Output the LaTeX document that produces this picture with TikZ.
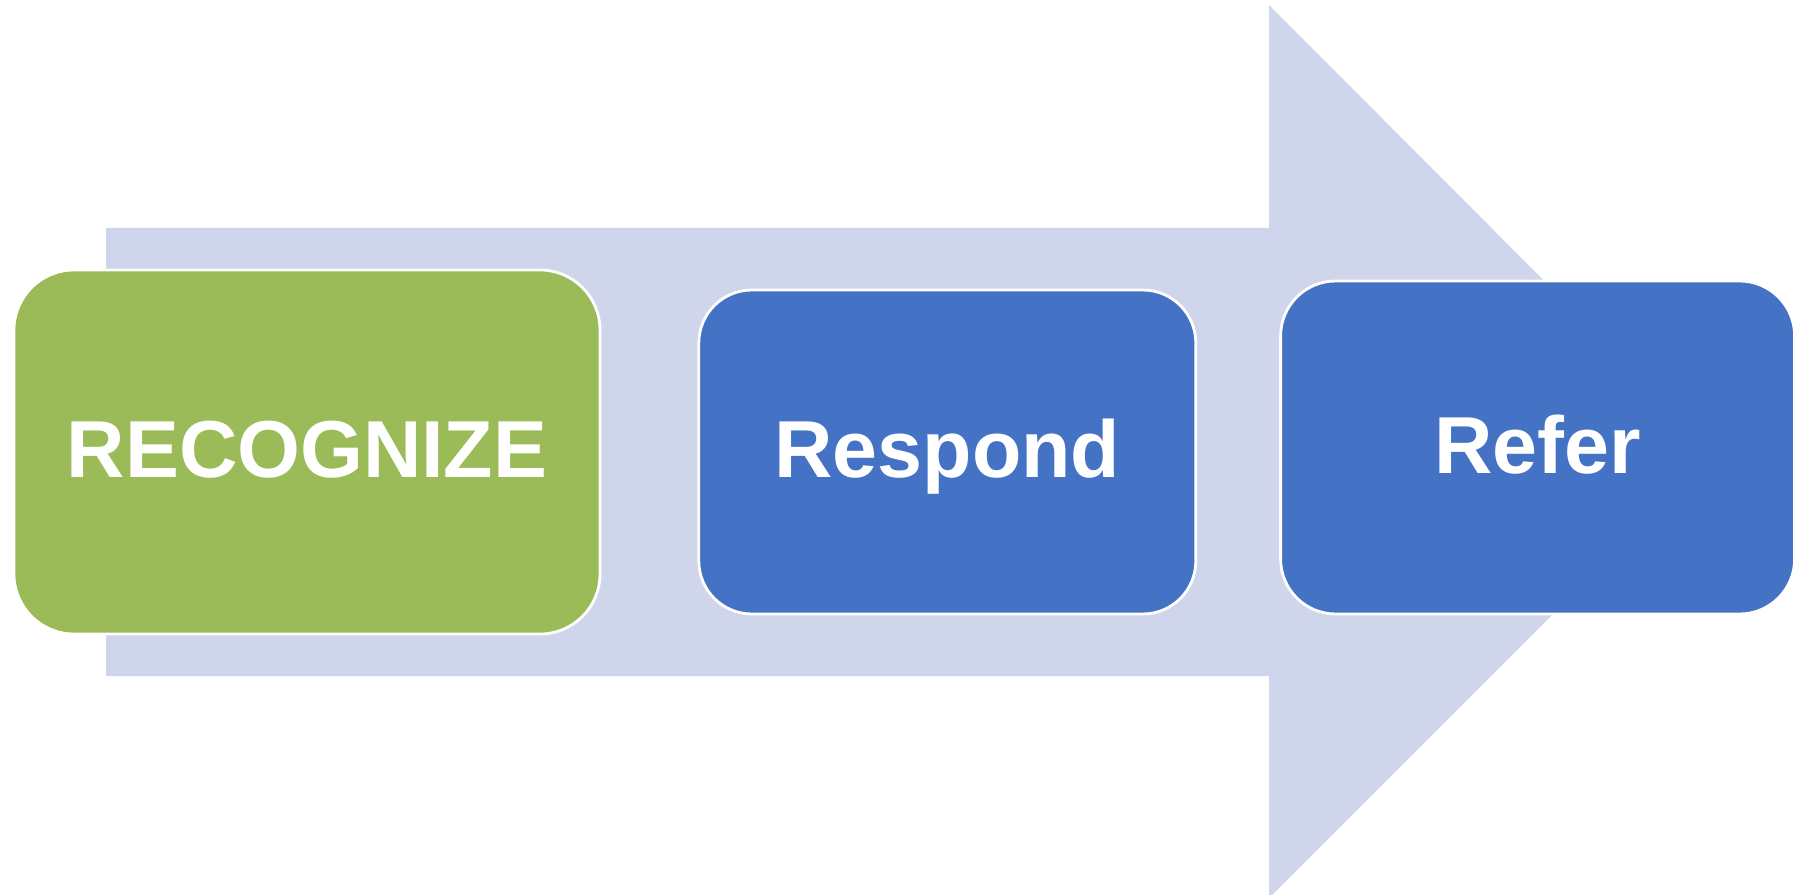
\documentclass[tikz,border=0pt]{standalone}
\usepackage{fontspec}
\setmainfont{Liberation Sans}
\usepackage{tikz}
\usetikzlibrary{positioning}
\definecolor{arrowblue}{RGB}{207,213,234}
\definecolor{stepgreen}{RGB}{155,187,89}
\definecolor{stepblue}{RGB}{68,114,196}
\tikzset{stepbox/.style={draw=white, line width=0.8pt, text=white, inner sep=0pt,
    font=\fontsize{23}{28}\selectfont\bfseries, text height=0.59cm, text depth=0.07cm}}

\begin{document}
\begin{tikzpicture}
		\useasboundingbox (0,0) rectangle (17.94,8.94);
		% big arrow behind the steps
		\fill [arrowblue] (1.06,2.18) -- (1.06,6.66) -- (12.69,6.66) -- (12.69,8.89) -- (17.15,4.42) -- (12.69,-0.04) -- (12.69,2.18) -- cycle;
		
		\node [stepbox, fill=stepgreen, rounded corners=0.6cm, minimum width=5.86cm, minimum height=3.64cm] (recognize) at (3.07,4.42) {RECOGNIZE};
		\node [stepbox, fill=stepblue, rounded corners=0.53cm, minimum width=4.97cm, minimum height=3.24cm, right=0.96cm of recognize] (respond) {Respond};
		\node [stepbox, fill=stepblue, rounded corners=0.55cm, minimum width=5.14cm, minimum height=3.33cm, right=0.82cm of respond, yshift=0.045cm] (refer) {Refer};
		\end{tikzpicture}
\end{document}
